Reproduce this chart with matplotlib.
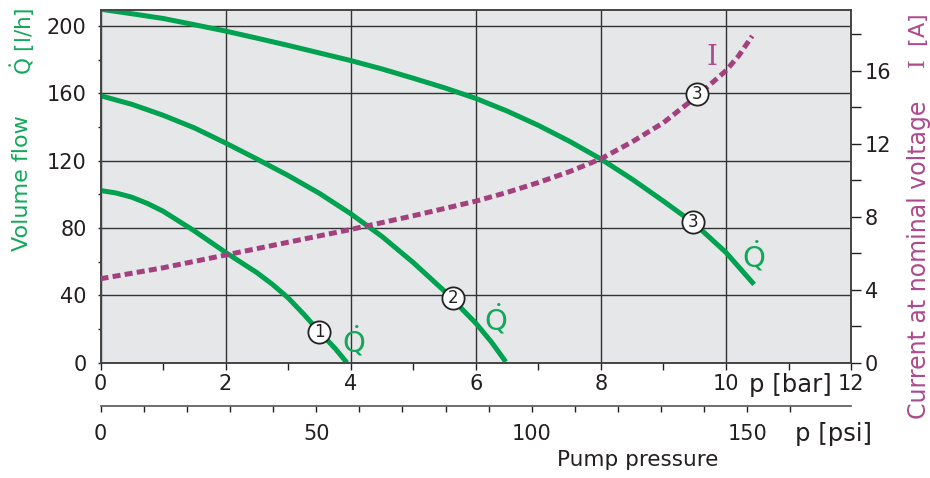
import numpy as np
import matplotlib.pyplot as plt
from matplotlib.ticker import FixedLocator, MultipleLocator

########### data ##################################

# pump curves, volume flow Q [l/h] over pressure p [bar]
p_curve1 = [0, 0.25, 0.5, 0.75, 1, 1.5, 2, 2.5, 2.75, 3, 3.25, 3.5, 3.75, 3.94]
q_curve1 = [102.3, 100.8, 98.3, 94.6, 90, 78.3, 65.5, 53.5, 46.5, 38.5, 28.8, 18.3, 8.5, 0]

p_curve2 = [0, 0.5, 1, 1.5, 2, 2.5, 3, 3.5, 4, 4.5, 5, 5.5, 6, 6.25, 6.48]
q_curve2 = [158.6, 153.5, 147, 139.5, 130.5, 121, 111.2, 100.6, 88.5, 75, 59.5, 42.5, 23.5, 12.3, 0.5]

p_curve3 = [0, 0.5, 1, 1.5, 2, 2.5, 3, 3.5, 4, 4.5, 5, 5.5, 6, 6.5, 7, 7.5, 8,
            8.5, 9, 9.5, 10, 10.45]
q_curve3 = [210, 207.3, 204.5, 200.8, 197, 192.8, 188.5, 184, 179.5, 174.5, 169,
            163.3, 157, 149.5, 141, 131.5, 121, 109, 96, 82.5, 65.5, 46.5]

# current I [A] for pump 3
p_current = [0, 1, 2, 3, 4, 5, 6, 6.5, 7, 7.5, 8, 8.5, 9, 9.5, 10, 10.2, 10.42]
i_current = [4.6, 5.2, 5.9, 6.6, 7.3, 8.05, 8.85, 9.33, 9.87, 10.47, 11.17,
             12.1, 13.15, 14.5, 16.0, 16.8, 17.9]

# numbered circles on the curves
mark_labels = ['1', '2', '3']
mark_p = [3.5, 5.63, 9.48]
mark_q = [18.2, 38.5, 83.8]
mark_i_p = 9.54
mark_i = 14.72

bar_ticks = [0, 2, 4, 6, 8, 10, 12]
q_ticks = [0, 40, 80, 120, 160, 200]
i_ticks = [0, 4, 8, 12, 16]
psi_ticks = [0, 50, 100, 150]
psi_per_bar = 14.5038

########### style ###############

plt.rcParams['font.family'] = ['DejaVu Sans']
plt.rcParams['mathtext.fontset'] = 'custom'
plt.rcParams['mathtext.rm'] = 'DejaVu Serif'
plt.rcParams['mathtext.sf'] = 'DejaVu Sans'

green = '#00a14f'
green_txt = '#12a85a'
magenta = '#a3417f'
magenta_txt = '#ad4a8c'
dark = '#231f20'
fs = 15

q_top = 209.7
i_top = 19.34

fig = plt.figure(figsize=(9.3, 4.78), dpi=100)
ax = fig.add_axes([0.1081, 0.2412, 0.807, 0.7385])
ax.set_facecolor('#e6e7e9')
ax.set_xlim(0, 12)
ax.set_ylim(0, q_top)

ax.xaxis.set_major_locator(FixedLocator(bar_ticks))
ax.xaxis.set_minor_locator(MultipleLocator(1))
ax.set_xticklabels([str(t) for t in bar_ticks])
ax.yaxis.set_major_locator(FixedLocator(q_ticks))
ax.yaxis.set_minor_locator(FixedLocator([20, 60, 100, 140, 180]))
ax.grid(True, which='major', color='#333333', lw=1.0)
ax.tick_params(axis='x', which='both', direction='out', length=5, width=1,
               pad=3, labelsize=fs, colors=dark)
ax.tick_params(axis='y', which='both', direction='out', length=2, width=1,
               pad=8, labelsize=fs, colors=dark)
for s in ax.spines.values():
    s.set_color('#444444')
    s.set_linewidth(1.2)

ax.plot(p_curve1, q_curve1, color=green, lw=3.6, solid_capstyle='butt', zorder=3)
ax.plot(p_curve2, q_curve2, color=green, lw=3.6, solid_capstyle='butt', zorder=3)
ax.plot(p_curve3, q_curve3, color=green, lw=3.6, solid_capstyle='butt', zorder=3)

# right axis: current
ax2 = ax.twinx()
ax2.set_ylim(0, i_top)
ax2.yaxis.set_major_locator(FixedLocator(i_ticks))
ax2.yaxis.set_minor_locator(FixedLocator([2, 6, 10, 14, 18]))
ax2.tick_params(axis='y', which='both', direction='out', length=7, width=1,
                pad=3, labelsize=fs, colors=dark)
for s in ax2.spines.values():
    s.set_color('#444444')
    s.set_linewidth(1.2)
ax2.plot(p_current, i_current, color=magenta, lw=3.6, dashes=(1.6, 0.85), zorder=3)

# numbered circles
for lab, x, y in zip(mark_labels, mark_p, mark_q):
    ax2.plot(x, y * i_top / q_top, 'o', ms=16, mfc='white', mec='#222222', mew=1.3, zorder=5)
    ax2.text(x, y * i_top / q_top, lab, ha='center', va='center', fontsize=12,
             color=dark, zorder=6)
ax2.plot(mark_i_p, mark_i, 'o', ms=16, mfc='white', mec='#222222', mew=1.3, zorder=5)
ax2.text(mark_i_p, mark_i, '3', ha='center', va='center', fontsize=12, color=dark, zorder=6)

# curve labels
qdot = r'$\dot{\mathsf{Q}}$'
ax.text(4.05, 12.5, qdot, color=green_txt, fontsize=21, ha='center', va='center')
ax.text(6.31, 26, qdot, color=green_txt, fontsize=21, ha='center', va='center')
ax.text(10.45, 63.5, qdot, color=green_txt, fontsize=21, ha='center', va='center')
ax2.text(9.78, 16.7, 'I', color=magenta_txt, fontsize=20, family='DejaVu Serif',
         ha='center', va='center')

# psi axis below
sec = ax.secondary_xaxis(-0.1227, functions=(lambda b: b * psi_per_bar,
                                             lambda s: s / psi_per_bar))
sec.xaxis.set_major_locator(FixedLocator(psi_ticks))
sec.xaxis.set_minor_locator(FixedLocator(list(range(10, 170, 10))))
sec.set_xticklabels([str(t) for t in psi_ticks])
sec.tick_params(which='both', direction='out', length=4, width=1, pad=9,
                labelsize=fs, colors=dark)
sec.spines['bottom'].set_color('#555555')
sec.spines['bottom'].set_linewidth(1.2)

# axis titles
fig.text(0.8495, 0.1946, 'p [bar]', ha='center', va='center', fontsize=17.5, color=dark)
fig.text(0.896, 0.092, 'p [psi]', ha='center', va='center', fontsize=17.5, color=dark)
fig.text(0.686, 0.038, 'Pump pressure', ha='center', va='center', fontsize=15.5, color=dark)
fig.text(0.0237, 0.617, 'Volume flow', rotation=90, ha='center', va='center',
         fontsize=16, color=green_txt)
fig.text(0.0247, 0.914, qdot + ' [l/h]', rotation=90, ha='center', va='center',
         fontsize=15.5, color=green_txt)
fig.text(0.988, 0.456, 'Current at nominal voltage', rotation=90, ha='center',
         va='center', fontsize=17, color=magenta_txt)
fig.text(0.988, 0.914, r'$\mathrm{I}$  [A]', rotation=90, ha='center', va='center',
         fontsize=16, color=magenta_txt)

plt.savefig('out.png', dpi=100)
